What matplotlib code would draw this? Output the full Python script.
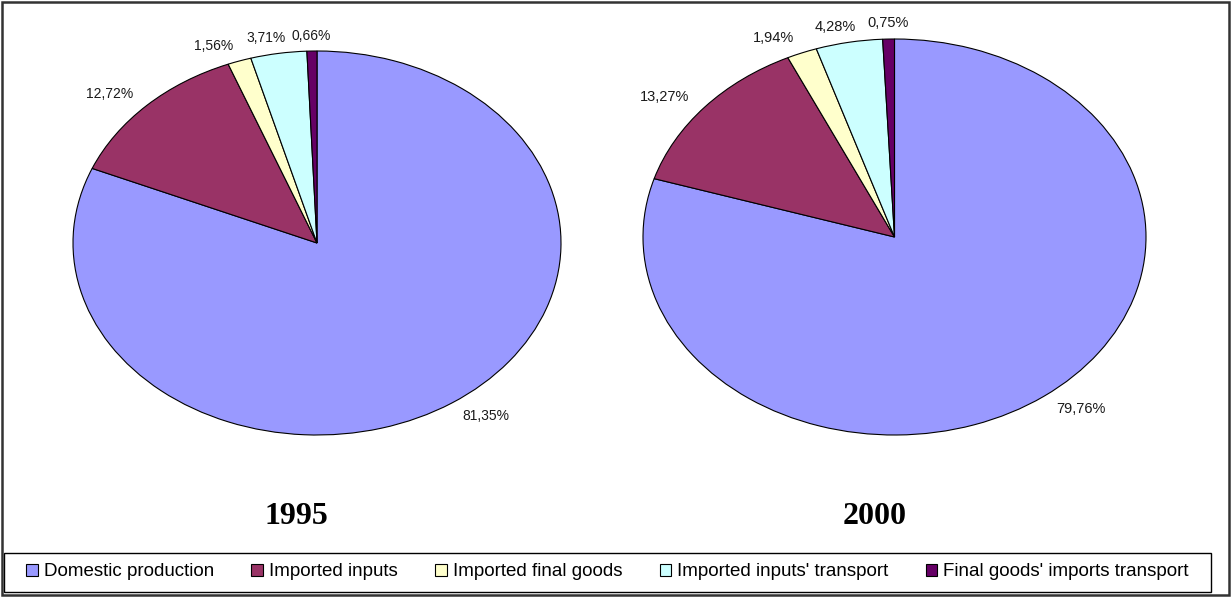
import matplotlib
matplotlib.use("Agg")
import matplotlib.pyplot as plt
from matplotlib.patches import Rectangle

# shares of the total, clockwise from 12 o'clock
categories = ["Domestic production", "Imported inputs", "Imported final goods",
              "Imported inputs' transport", "Final goods' imports transport"]
values_1995 = [81.35, 12.72, 1.56, 3.71, 0.66]
values_2000 = [79.76, 13.27, 1.94, 4.28, 0.75]
years = ["1995", "2000"]
colors = ["#9999FF", "#993366", "#FFFFCC", "#CCFFFF", "#660066"]

plt.rcParams['font.family'] = ['Liberation Sans', 'DejaVu Sans']

W, H = 1231, 597
fig = plt.figure(figsize=(W / 100, H / 100), dpi=100)


def fbox(x0, y0, x1, y1):
    # pixel box (top-left origin) -> figure fraction rect
    return [x0 / W, 1 - y1 / H, (x1 - x0) / W, (y1 - y0) / H]


def pct(v):
    return ("%.2f%%" % v).replace(".", ",")


def draw_pie(rect, vals, fs):
    ax = fig.add_axes(rect)
    wedges, texts = ax.pie(vals, colors=colors, startangle=90, counterclock=False,
                           labels=[pct(v) for v in vals], labeldistance=1.08,
                           wedgeprops=dict(edgecolor="black", linewidth=0.8),
                           textprops=dict(fontsize=fs, color="#1a1a1a"))
    # excel nudges the two tiny top labels apart
    x, y = texts[3].get_position()
    texts[3].set_position((x + 0.04, y))
    texts[4].set_ha("center")
    ax.set_aspect("auto")
    ax.set_xlim(-1, 1)
    ax.set_ylim(-1, 1)
    ax.axis("off")
    return wedges


w1 = draw_pie(fbox(73, 51, 561, 435), values_1995, 10)
w2 = draw_pie(fbox(643, 39, 1146, 435), values_2000, 10.5)

# year titles
fig.text(296 / W, 1 - 516 / H, years[0], family="Liberation Serif", fontsize=23,
         fontweight="bold", ha="center", va="center")
fig.text(875 / W, 1 - 516 / H, years[1], family="Liberation Serif", fontsize=23,
         fontweight="bold", ha="center", va="center")

# legend with its own box
leg = fig.legend(w1, categories, loc="center", ncol=5, frameon=False,
                 bbox_to_anchor=((18 + 1197) / 2 / W, 1 - 572 / H),
                 fontsize=13.5, handlelength=0.62, handleheight=0.62,
                 handletextpad=0.31, columnspacing=2.0)
for h in leg.legend_handles:
    h.set_edgecolor("black")
    h.set_linewidth(0.8)
fig.patches.append(Rectangle((4 / W, 1 - 592 / H), (1211 - 4) / W, (592 - 553) / H,
                             transform=fig.transFigure, fill=False,
                             edgecolor="black", linewidth=1.0))
# outer chart frame
fig.patches.append(Rectangle((2 / W, 2 / H), (W - 4) / W, (H - 4) / H,
                             transform=fig.transFigure, fill=False,
                             edgecolor="#333333", linewidth=1.8))

fig.savefig("out.png", dpi=100)
